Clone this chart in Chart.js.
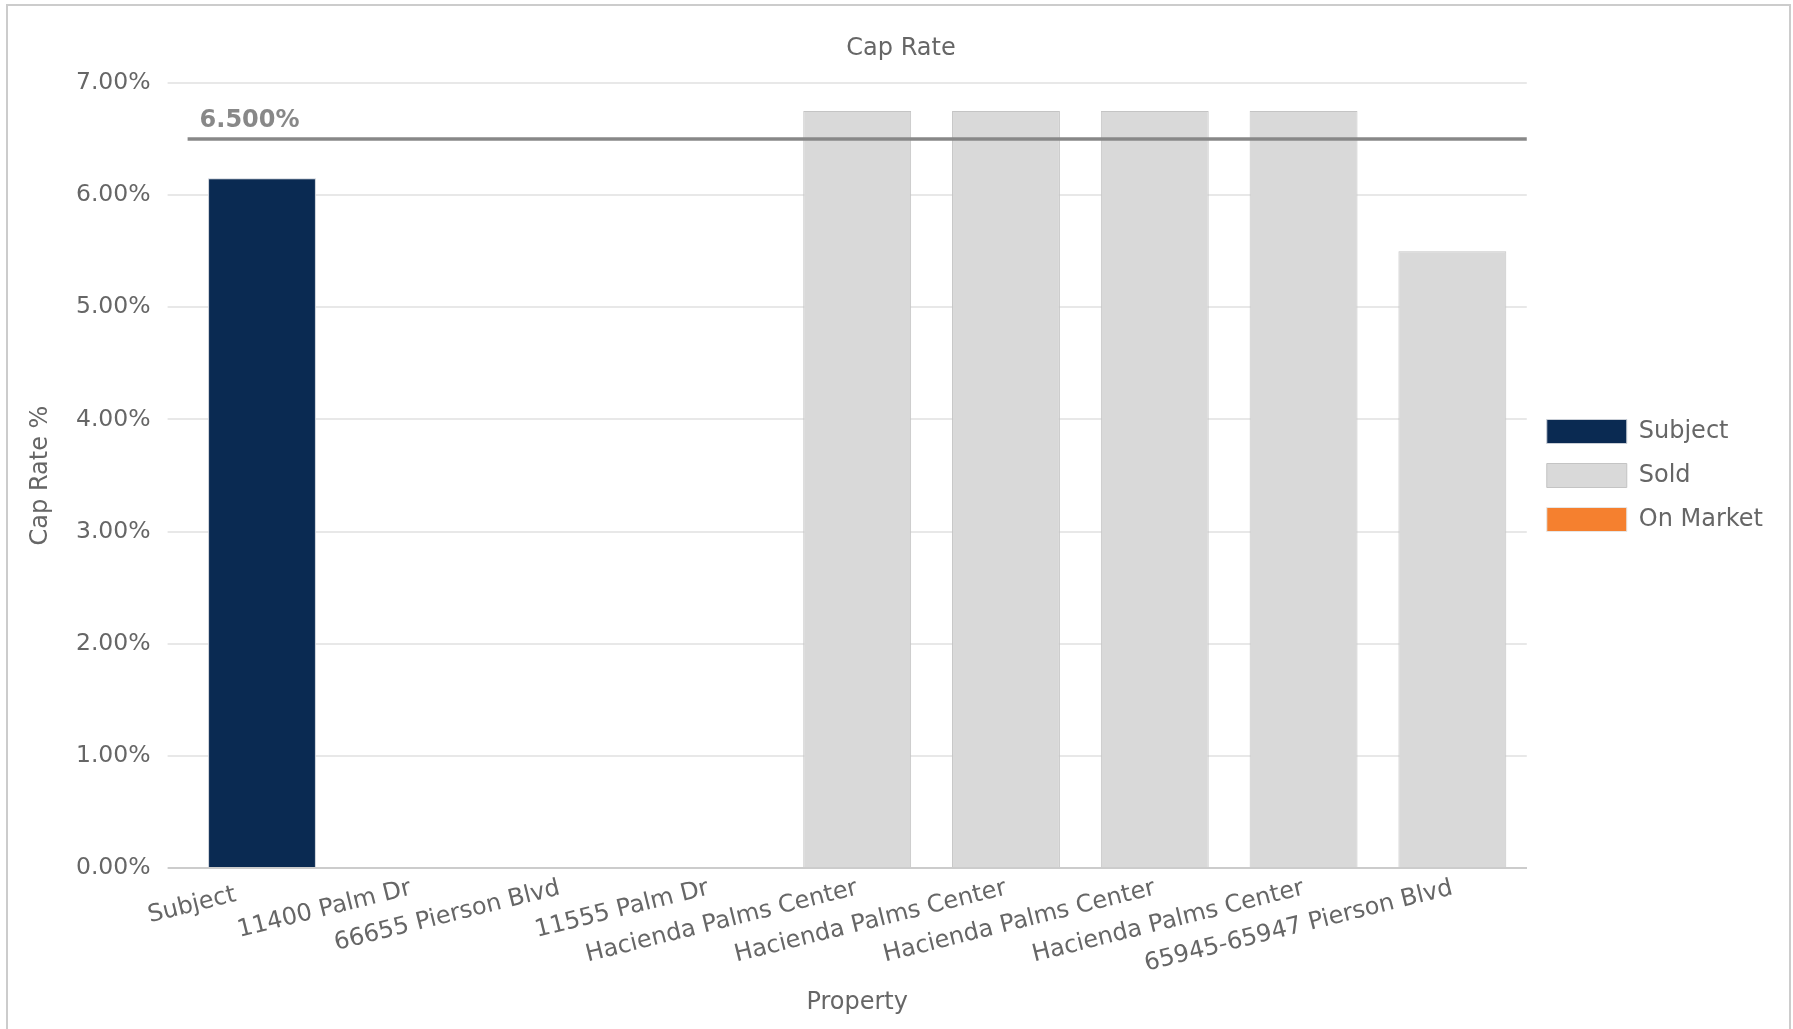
<!DOCTYPE html>
<html>
<head>
<meta charset="utf-8">
<script src="https://cdn.jsdelivr.net/npm/chart.js@4.4.1/dist/chart.umd.min.js"></script>
<style>
  html, body { margin: 0; padding: 0; background: #ffffff; overflow: hidden; }
  #frame {
    position: absolute; left: 6px; top: 4px; width: 1781px; height: 1040px;
    border: 2px solid #cccccc; pointer-events: none;
  }
  #chart { position: absolute; left: 0; top: 0; }
</style>
</head>
<body>
<canvas id="chart" width="1793" height="1029"></canvas>
<div id="frame"></div>
<script>
// Properties compared on the chart
const categories = [
  'Subject',
  '11400 Palm Dr',
  '66655 Pierson Blvd',
  '11555 Palm Dr',
  'Hacienda Palms Center',
  'Hacienda Palms Center',
  'Hacienda Palms Center',
  'Hacienda Palms Center',
  '65945-65947 Pierson Blvd'
];

// Cap rate (%) per property, split by status
const subjectValues  = [6.15, null, null, null, null, null, null, null, null];
const soldValues     = [null, null, null, null, 6.75, 6.75, 6.75, 6.75, 5.50];
const onMarketValues = [null, null, null, null, null, null, null, null, null];

// Reference cap rate drawn as a horizontal line across the plot
const referenceRate = 6.5;
const referenceLabel = '6.500%';

// Y axis ticks
const yTicks = [0, 1, 2, 3, 4, 5, 6, 7];

const chartTitle = 'Cap Rate';

const FONT = 'DejaVu Sans';
const TEXT = '#666666';

// Title centred on the framed card, and the reference line drawn over the bars
const decorations = {
  id: 'decorations',
  afterDatasetsDraw(chart) {
    const { ctx, chartArea, scales } = chart;
    const y = scales.y.getPixelForValue(referenceRate);
    ctx.save();
    ctx.strokeStyle = '#888888';
    ctx.lineWidth = 3.5;
    ctx.beginPath();
    ctx.moveTo(chartArea.left, y);
    ctx.lineTo(chartArea.right, y);
    ctx.stroke();
    ctx.fillStyle = '#888888';
    ctx.font = 'bold 24px "' + FONT + '"';
    ctx.textBaseline = 'alphabetic';
    ctx.textAlign = 'left';
    ctx.fillText(referenceLabel, chartArea.left + 12, y - 12);

    ctx.fillStyle = TEXT;
    ctx.font = '24px "' + FONT + '"';
    ctx.textAlign = 'center';
    ctx.textBaseline = 'middle';
    ctx.fillText(chartTitle, 901, 49);
    ctx.restore();
  }
};

new Chart(document.getElementById('chart'), {
  type: 'bar',
  data: {
    labels: categories,
    datasets: [
      { label: 'Subject', data: subjectValues, backgroundColor: '#0a2a52', borderColor: '#c9ced6', borderWidth: 1 },
      { label: 'Sold', data: soldValues, backgroundColor: '#d9d9d9', borderColor: '#c4c4c4', borderWidth: 1 },
      { label: 'On Market', data: onMarketValues, backgroundColor: '#f5802f', borderColor: '#e6e6e6', borderWidth: 1 }
    ]
  },
  options: {
    responsive: false,
    devicePixelRatio: 1,
    animation: false,
    layout: { padding: { left: 8, right: 20, top: 83, bottom: 4 } },
    datasets: { bar: { grouped: false, barPercentage: 0.725, categoryPercentage: 1.0 } },
    plugins: {
      title: { display: false },
      legend: {
        position: 'right',
        fullSize: false,
        labels: {
          color: TEXT, font: { family: FONT, size: 24 },
          boxWidth: 80, boxHeight: 24, padding: 20
        }
      },
      tooltip: { enabled: false }
    },
    scales: {
      x: {
        grid: { display: false, drawTicks: false },
        border: { display: true, color: '#cccccc', width: 2 },
        ticks: {
          color: TEXT, font: { family: FONT, size: 24 },
          minRotation: 14, maxRotation: 14, autoSkip: false, padding: 6,
          // the first label sits a little further left than the others
          callback(value, index) {
            const label = this.getLabelForValue(value);
            return index === 0 ? label + '\u2002\u00a0\u00a0' : label;
          }
        },
        title: {
          display: true, text: 'Property', color: TEXT,
          font: { family: FONT, size: 24 }, padding: { top: 0, bottom: 7.5 }
        },
        afterFit(scale) { scale.height = 157; }
      },
      y: {
        min: 0, max: 7,
        afterBuildTicks(scale) { scale.ticks = yTicks.map(v => ({ value: v })); },
        grid: {
          color: ctx => (ctx.tick && ctx.tick.value === 0 ? '#cccccc' : '#e8e8e8'),
          lineWidth: 2,
          tickLength: 20, drawTicks: true
        },
        border: { display: false },
        ticks: {
          color: TEXT, font: { family: FONT, size: 23.5 }, padding: 17,
          callback: v => Number(v).toFixed(2) + '%'
        },
        title: {
          display: true, text: 'Cap Rate %', color: TEXT,
          font: { family: FONT, size: 24 }, padding: { top: 18, bottom: 0 }
        },
        afterFit(scale) { scale.width = 179.6; }
      }
    }
  },
  plugins: [decorations]
});
</script>
</body>
</html>
